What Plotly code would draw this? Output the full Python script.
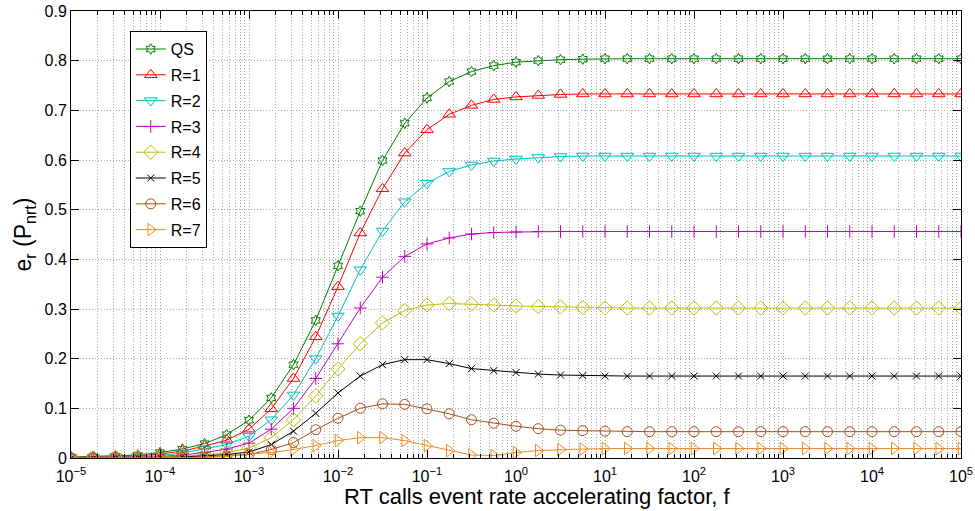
import numpy as np
import plotly.graph_objects as go

# x: f = 10^(-5 + k/4), k = 0..40
exponents = [-5 + k / 4 for k in range(41)]
f_values = [10 ** e for e in exponents]

qs = [0.002, 0.003, 0.004, 0.006, 0.011, 0.018, 0.029, 0.047, 0.076, 0.121,
      0.188, 0.277, 0.387, 0.497, 0.599, 0.674, 0.725, 0.758, 0.778, 0.790,
      0.797, 0.800, 0.802, 0.803] + [0.804] * 17
r1 = [0.001, 0.002, 0.003, 0.004, 0.008, 0.014, 0.024, 0.036, 0.058, 0.099,
      0.160, 0.244, 0.345, 0.453, 0.542, 0.614, 0.661, 0.692, 0.710, 0.722,
      0.727, 0.730, 0.732] + [0.733] * 18
r2 = [0.001, 0.001, 0.002, 0.003, 0.005, 0.010, 0.018, 0.027, 0.044, 0.077,
      0.127, 0.200, 0.286, 0.379, 0.457, 0.516, 0.553, 0.577, 0.590, 0.598,
      0.602, 0.605, 0.607] + [0.608] * 18
r3 = [0.000, 0.001, 0.001, 0.002, 0.003, 0.006, 0.011, 0.018, 0.030, 0.058,
      0.100, 0.160, 0.230, 0.302, 0.364, 0.406, 0.431, 0.443, 0.451, 0.454,
      0.455] + [0.456] * 20
r4 = [0.000, 0.000, 0.001, 0.001, 0.002, 0.004, 0.006, 0.011, 0.020, 0.041,
      0.077, 0.125, 0.179, 0.230, 0.272, 0.297, 0.308, 0.311, 0.310, 0.308,
      0.306, 0.305, 0.304, 0.303] + [0.302] * 17
r5 = [0.000, 0.000, 0.000, 0.001, 0.001, 0.002, 0.004, 0.007, 0.012, 0.027,
      0.054, 0.090, 0.131, 0.165, 0.188, 0.198, 0.198, 0.190, 0.180, 0.176,
      0.172, 0.169, 0.167, 0.166] + [0.165] * 17
r6 = [0.000, 0.000, 0.000, 0.000, 0.001, 0.001, 0.002, 0.004, 0.007, 0.017,
      0.031, 0.057, 0.080, 0.100, 0.109, 0.108, 0.099, 0.089, 0.077, 0.070,
      0.064, 0.059, 0.056, 0.055, 0.054] + [0.053] * 16
r7 = [0.000, 0.000, 0.000, 0.000, 0.000, 0.001, 0.001, 0.003, 0.008, 0.011,
      0.017, 0.025, 0.035, 0.041, 0.041, 0.035, 0.025, 0.015, 0.006, 0.005,
      0.011, 0.015, 0.017, 0.018] + [0.019] * 17

series_names = ["QS", "R=1", "R=2", "R=3", "R=4", "R=5", "R=6", "R=7"]
series_values = [qs, r1, r2, r3, r4, r5, r6, r7]

x_tick_vals = [10 ** p for p in range(-5, 6)]
x_tick_text = ["10<sup>−5</sup>", "10<sup>−4</sup>", "10<sup>−3</sup>", "10<sup>−2</sup>",
               "10<sup>−1</sup>", "10<sup>0</sup>", "10<sup>1</sup>", "10<sup>2</sup>",
               "10<sup>3</sup>", "10<sup>4</sup>", "10<sup>5</sup>"]
y_tick_vals = [0, 0.1, 0.2, 0.3, 0.4, 0.5, 0.6, 0.7, 0.8, 0.9]
y_tick_text = ["0", "0.1", "0.2", "0.3", "0.4", "0.5", "0.6", "0.7", "0.8", "0.9"]
x_title = "RT calls event rate accelerating factor, f"
y_title = "e<sub>r</sub> (P<sub>nrt</sub>)"

colors = ["#008000", "#FF0000", "#00BFBF", "#BF00BF", "#BFBF00", "#000000", "#A8501C", "#EE8A1E"]
symbols = ["hexagram-open", "triangle-up-open", "triangle-down-open", "cross-thin-open",
           "diamond-open", "x-thin-open", "circle-open", "triangle-right-open"]
sizes = [8, 11, 11, 9, 11, 7, 10, 11]

FONT = "Liberation Sans, Arial, Helvetica, sans-serif"

fig = go.Figure()
for i, (name, vals) in enumerate(zip(series_names, series_values)):
    fig.add_trace(go.Scatter(
        x=f_values, y=vals, name=name, mode="lines+markers",
        legendgroup=name,
        line=dict(color=colors[i], width=1),
        marker=dict(symbol=symbols[i], size=sizes[i], color=colors[i],
                    line=dict(color=colors[i], width=1)),
    ))

grid_col = "#a8a8a8"
fig.update_xaxes(
    type="log", range=[-5, 5], automargin=False,
    tickmode="array", tickvals=x_tick_vals, ticktext=x_tick_text,
    ticks="inside", ticklen=8, tickcolor="black", tickwidth=1,
    ticklabelstandoff=4,
    showline=True, linecolor="black", linewidth=1, mirror="allticks",
    showgrid=True, gridcolor=grid_col, griddash="1px,2px", gridwidth=1,
    minor=dict(dtick="D1", ticks="inside", ticklen=4, tickcolor="black",
               showgrid=True, gridcolor=grid_col, griddash="1px,2px", gridwidth=1),
    tickfont=dict(family=FONT, size=16, color="black"),
    zeroline=False,
)
fig.update_yaxes(
    range=[0, 0.9], automargin=False,
    tickmode="array", tickvals=y_tick_vals, ticktext=y_tick_text,
    ticks="inside", ticklen=8, tickcolor="black", tickwidth=1,
    showline=True, linecolor="black", linewidth=1, mirror="allticks",
    showgrid=True, gridcolor=grid_col, griddash="1px,2px", gridwidth=1,
    tickfont=dict(family=FONT, size=16, color="black"),
    title=dict(text=y_title,
               font=dict(family=FONT, size=23, color="black"), standoff=6),
    zeroline=False,
)
fig.add_annotation(
    text=x_title, xref="paper", yref="paper",
    x=0.5236, y=-0.0872, xanchor="center", yanchor="middle",
    showarrow=False, font=dict(family=FONT, size=22, color="black"),
)
fig.update_layout(
    width=975, height=511,
    margin=dict(l=71, r=14, t=11, b=53),
    paper_bgcolor="white", plot_bgcolor="white",
    font=dict(family=FONT, color="black"),
    showlegend=True,
    legend=dict(x=0.066, y=0.955, xanchor="left", yanchor="top",
                bgcolor="white", bordercolor="black", borderwidth=1,
                font=dict(family=FONT, size=16, color="black"),
                tracegroupgap=2, itemwidth=30),
)
fig.write_html("out.html")
